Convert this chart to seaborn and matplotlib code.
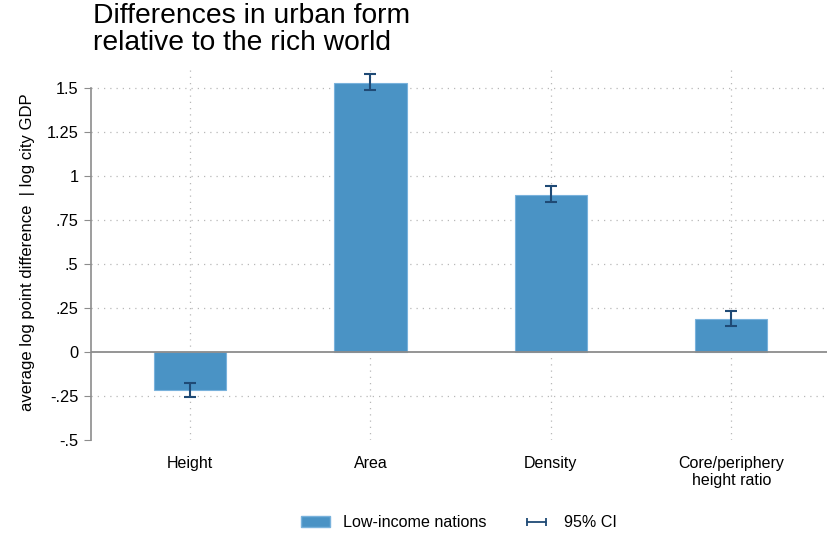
import numpy as np
import pandas as pd
import seaborn as sns
import matplotlib.pyplot as plt
from matplotlib.lines import Line2D
from matplotlib.patches import Patch

# values
categories = ["Height", "Area", "Density", "Core/periphery\nheight ratio"]
estimates = [-0.216, 1.528, 0.892, 0.188]
ci_low = [-0.256, 1.489, 0.852, 0.148]
ci_high = [-0.176, 1.580, 0.943, 0.233]
yticks = [-0.5, -0.25, 0, 0.25, 0.5, 0.75, 1, 1.25, 1.5]
yticklabels = ["-.5", "-.25", "0", ".25", ".5", ".75", "1", "1.25", "1.5"]

bar_color = "#4A93C5"
ci_color = "#1F4A75"

sns.set_style("white")
plt.rcParams['font.family'] = ['Liberation Sans', 'DejaVu Sans']
plt.rcParams['text.color'] = 'black'
plt.rcParams['xtick.color'] = 'black'
plt.rcParams['ytick.color'] = 'black'
plt.rcParams['axes.labelcolor'] = 'black'

df = pd.DataFrame({"category": categories, "estimate": estimates})

fig = plt.figure(figsize=(8.27, 5.37), dpi=100)
ax = fig.add_axes([0.110, 0.181, 0.890, 0.698])

sns.barplot(data=df, x="category", y="estimate", color=bar_color, saturation=1,
            width=0.4, errorbar=None, edgecolor="#79B2DC", linewidth=0.8,
            ax=ax, zorder=2)

# 95% CI
pos = np.arange(len(categories))
est = np.array(estimates)
yerr = np.vstack([est - np.array(ci_low), np.array(ci_high) - est])
ax.errorbar(pos, est, yerr=yerr, fmt="none", ecolor=ci_color, elinewidth=1.5,
            capsize=4, capthick=1.5, zorder=3)

ax.set_xlim(-0.549, 3.53)
ax.set_ylim(-0.5, 1.63)
ax.set_yticks(yticks)
ax.set_yticklabels(yticklabels)
ax.axhline(0, color="#8C8C8C", lw=1.3, zorder=2.5)

# dotted grid
for y in yticks:
    if y not in (0, -0.5):
        ax.axhline(y, color="#B8B8B8", lw=0.9, ls=(0, (1, 4)), zorder=1)
for x in pos:
    ax.axvline(x, color="#B8B8B8", lw=0.9, ls=(0, (1, 4)), zorder=1)

for s in ["top", "right", "bottom"]:
    ax.spines[s].set_visible(False)
ax.spines["left"].set_color("#8C8C8C")
ax.spines["left"].set_linewidth(1.2)
ax.spines["left"].set_bounds(-0.5, 1.5)
ax.tick_params(axis="y", left=True, length=5, color="#8C8C8C", labelcolor="black",
               labelsize=11.8, pad=4)
ax.tick_params(axis="x", bottom=False, labelsize=11.5, pad=8)

ax.set_xlabel("")
ax.set_ylabel("average log point difference  | log city GDP", fontsize=12, labelpad=8)

fig.text(0.112, 0.995, "Differences in urban form\nrelative to the rich world",
         fontsize=20.3, ha="left", va="top", linespacing=1.05)

handles = [Patch(facecolor=bar_color, edgecolor="#79B2DC"),
           Line2D([], [], color=ci_color, lw=1.3, marker="|", markersize=6, markeredgewidth=1.3)]
ax.legend(handles, ["Low-income nations", "95% CI"], loc="center",
          bbox_to_anchor=(0.5, -0.221), ncol=2, frameon=False, fontsize=11.6,
          numpoints=2, handlelength=1.8, columnspacing=2.2)

fig.savefig("out.png", dpi=100)
